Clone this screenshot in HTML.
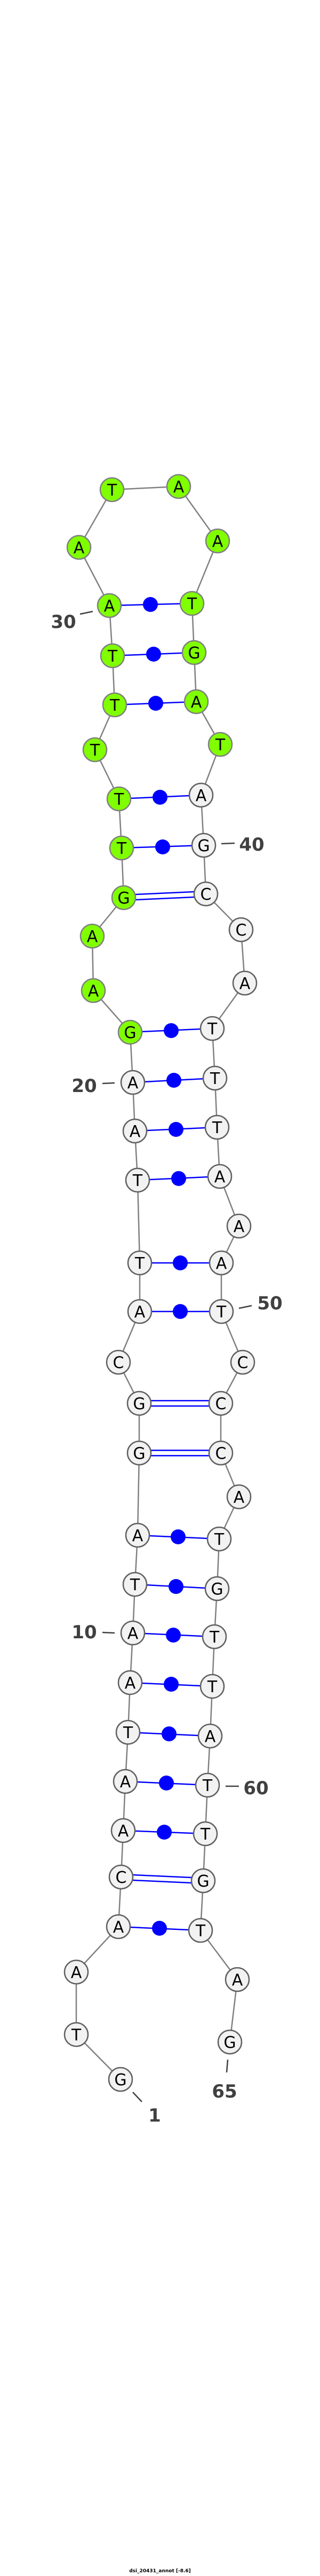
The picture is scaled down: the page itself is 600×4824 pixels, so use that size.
<!DOCTYPE html>
<html><head><meta charset="utf-8"><style>
html,body{margin:0;padding:0;background:#fff;}
svg{display:block;}
.bb{fill:none;stroke:#808080;stroke-width:2.5;}
.p{stroke:#0000ff;stroke-width:2.5;}
.d{fill:#0000ff;}
.w{fill:#f2f2f2;stroke:#606060;stroke-width:2.5;}
.g{fill:#80ff00;stroke:#808080;stroke-width:2.5;}
.t{font-family:"DejaVu Sans","Liberation Sans",sans-serif;font-size:30px;fill:#000;text-anchor:middle;}
.l{font-family:"DejaVu Sans","Liberation Sans",sans-serif;font-size:34px;font-weight:bold;fill:#404040;text-anchor:middle;}
.k{stroke:#404040;stroke-width:2.5;}
</style></head><body>
<svg width="600" height="4824" viewBox="0 0 600 4824" xmlns="http://www.w3.org/2000/svg">
<polyline class="bb" points="226,3894 143,3810 143,3693 222,3608 227,3515 231,3428 235,3336 240,3244 244,3151 249,3058 253,2967 258,2875 261,2721 261,2628 222,2551 262,2456 262,2365 258,2210 253,2118 249,2027 244,1933 175,1855 173,1753 232,1681 228,1588 223,1496 178,1404 215,1320 211,1228 205,1134 148,1025 210,917 335,911 408,1013 360,1130 364,1222 368,1314 413,1394 377,1489 382,1583 386,1674 452,1741 459,1841 398,1926 403,2019 407,2111 412,2203 448,2296 415,2365 415,2456 455,2551 414,2628 414,2721 448,2803 411,2882 407,2975 402,3065 398,3158 394,3251 389,3343 385,3434 381,3522 376,3615 445,3707 431,3824"/>
<!-- pairs -->
<g>
<line class="p" x1="222" y1="3608" x2="376" y2="3615"/><circle class="d" cx="299" cy="3611" r="14"/>
<line class="p" x1="227" y1="3510" x2="381" y2="3517"/><line class="p" x1="227" y1="3520" x2="381" y2="3527"/>
<line class="p" x1="231" y1="3428" x2="385" y2="3434"/><circle class="d" cx="308" cy="3431" r="14"/>
<line class="p" x1="235" y1="3336" x2="389" y2="3343"/><circle class="d" cx="312" cy="3339" r="14"/>
<line class="p" x1="240" y1="3244" x2="394" y2="3251"/><circle class="d" cx="317" cy="3247" r="14"/>
<line class="p" x1="244" y1="3151" x2="398" y2="3158"/><circle class="d" cx="321" cy="3154" r="14"/>
<line class="p" x1="249" y1="3058" x2="402" y2="3065"/><circle class="d" cx="325" cy="3062" r="14"/>
<line class="p" x1="253" y1="2967" x2="407" y2="2975"/><circle class="d" cx="330" cy="2971" r="14"/>
<line class="p" x1="258" y1="2875" x2="411" y2="2882"/><circle class="d" cx="334" cy="2878" r="14"/>
<line class="p" x1="261" y1="2716" x2="414" y2="2716"/><line class="p" x1="261" y1="2726" x2="414" y2="2726"/>
<line class="p" x1="261" y1="2623" x2="414" y2="2623"/><line class="p" x1="261" y1="2633" x2="414" y2="2633"/>
<line class="p" x1="262" y1="2456" x2="415" y2="2456"/><circle class="d" cx="338" cy="2456" r="14"/>
<line class="p" x1="262" y1="2365" x2="415" y2="2365"/><circle class="d" cx="338" cy="2365" r="14"/>
<line class="p" x1="258" y1="2210" x2="412" y2="2203"/><circle class="d" cx="335" cy="2207" r="14"/>
<line class="p" x1="253" y1="2118" x2="407" y2="2111"/><circle class="d" cx="330" cy="2115" r="14"/>
<line class="p" x1="249" y1="2027" x2="403" y2="2019"/><circle class="d" cx="326" cy="2023" r="14"/>
<line class="p" x1="244" y1="1933" x2="398" y2="1926"/><circle class="d" cx="321" cy="1930" r="14"/>
<line class="p" x1="232" y1="1686" x2="386" y2="1679"/><line class="p" x1="232" y1="1676" x2="386" y2="1669"/>
<line class="p" x1="228" y1="1588" x2="382" y2="1583"/><circle class="d" cx="305" cy="1586" r="14"/>
<line class="p" x1="223" y1="1496" x2="377" y2="1489"/><circle class="d" cx="300" cy="1493" r="14"/>
<line class="p" x1="215" y1="1320" x2="368" y2="1314"/><circle class="d" cx="292" cy="1317" r="14"/>
<line class="p" x1="211" y1="1228" x2="364" y2="1222"/><circle class="d" cx="288" cy="1225" r="14"/>
<line class="p" x1="205" y1="1134" x2="360" y2="1130"/><circle class="d" cx="282" cy="1132" r="14"/>
</g>
<!-- nodes -->
<g>
<circle class="w" cx="226" cy="3894" r="22"/><text class="t" x="226" y="3905">G</text>
<circle class="w" cx="143" cy="3810" r="22"/><text class="t" x="143" y="3821">T</text>
<circle class="w" cx="143" cy="3693" r="22"/><text class="t" x="143" y="3704">A</text>
<circle class="w" cx="222" cy="3608" r="22"/><text class="t" x="222" y="3619">A</text>
<circle class="w" cx="227" cy="3515" r="22"/><text class="t" x="227" y="3526">C</text>
<circle class="w" cx="231" cy="3428" r="22"/><text class="t" x="231" y="3439">A</text>
<circle class="w" cx="235" cy="3336" r="22"/><text class="t" x="235" y="3347">A</text>
<circle class="w" cx="240" cy="3244" r="22"/><text class="t" x="240" y="3255">T</text>
<circle class="w" cx="244" cy="3151" r="22"/><text class="t" x="244" y="3162">A</text>
<circle class="w" cx="249" cy="3058" r="22"/><text class="t" x="249" y="3069">A</text>
<circle class="w" cx="253" cy="2967" r="22"/><text class="t" x="253" y="2978">T</text>
<circle class="w" cx="258" cy="2875" r="22"/><text class="t" x="258" y="2886">A</text>
<circle class="w" cx="261" cy="2721" r="22"/><text class="t" x="261" y="2732">G</text>
<circle class="w" cx="261" cy="2628" r="22"/><text class="t" x="261" y="2639">G</text>
<circle class="w" cx="222" cy="2551" r="22"/><text class="t" x="222" y="2562">C</text>
<circle class="w" cx="262" cy="2456" r="22"/><text class="t" x="262" y="2467">A</text>
<circle class="w" cx="262" cy="2365" r="22"/><text class="t" x="262" y="2376">T</text>
<circle class="w" cx="258" cy="2210" r="22"/><text class="t" x="258" y="2221">T</text>
<circle class="w" cx="253" cy="2118" r="22"/><text class="t" x="253" y="2129">A</text>
<circle class="w" cx="249" cy="2027" r="22"/><text class="t" x="249" y="2038">A</text>
<circle class="g" cx="244" cy="1933" r="22"/><text class="t" x="244" y="1944">G</text>
<circle class="g" cx="175" cy="1855" r="22"/><text class="t" x="175" y="1866">A</text>
<circle class="g" cx="173" cy="1753" r="22"/><text class="t" x="173" y="1764">A</text>
<circle class="g" cx="232" cy="1681" r="22"/><text class="t" x="232" y="1692">G</text>
<circle class="g" cx="228" cy="1588" r="22"/><text class="t" x="228" y="1599">T</text>
<circle class="g" cx="223" cy="1496" r="22"/><text class="t" x="223" y="1507">T</text>
<circle class="g" cx="178" cy="1404" r="22"/><text class="t" x="178" y="1415">T</text>
<circle class="g" cx="215" cy="1320" r="22"/><text class="t" x="215" y="1331">T</text>
<circle class="g" cx="211" cy="1228" r="22"/><text class="t" x="211" y="1239">T</text>
<circle class="g" cx="205" cy="1134" r="22"/><text class="t" x="205" y="1145">A</text>
<circle class="g" cx="148" cy="1025" r="22"/><text class="t" x="148" y="1036">A</text>
<circle class="g" cx="210" cy="917" r="22"/><text class="t" x="210" y="928">T</text>
<circle class="g" cx="335" cy="911" r="22"/><text class="t" x="335" y="922">A</text>
<circle class="g" cx="408" cy="1013" r="22"/><text class="t" x="408" y="1024">A</text>
<circle class="g" cx="360" cy="1130" r="22"/><text class="t" x="360" y="1141">T</text>
<circle class="g" cx="364" cy="1222" r="22"/><text class="t" x="364" y="1233">G</text>
<circle class="g" cx="368" cy="1314" r="22"/><text class="t" x="368" y="1325">A</text>
<circle class="g" cx="413" cy="1394" r="22"/><text class="t" x="413" y="1405">T</text>
<circle class="w" cx="377" cy="1489" r="22"/><text class="t" x="377" y="1500">A</text>
<circle class="w" cx="382" cy="1583" r="22"/><text class="t" x="382" y="1594">G</text>
<circle class="w" cx="386" cy="1674" r="22"/><text class="t" x="386" y="1685">C</text>
<circle class="w" cx="452" cy="1741" r="22"/><text class="t" x="452" y="1752">C</text>
<circle class="w" cx="459" cy="1841" r="22"/><text class="t" x="459" y="1852">A</text>
<circle class="w" cx="398" cy="1926" r="22"/><text class="t" x="398" y="1937">T</text>
<circle class="w" cx="403" cy="2019" r="22"/><text class="t" x="403" y="2030">T</text>
<circle class="w" cx="407" cy="2111" r="22"/><text class="t" x="407" y="2122">T</text>
<circle class="w" cx="412" cy="2203" r="22"/><text class="t" x="412" y="2214">A</text>
<circle class="w" cx="448" cy="2296" r="22"/><text class="t" x="448" y="2307">A</text>
<circle class="w" cx="415" cy="2365" r="22"/><text class="t" x="415" y="2376">A</text>
<circle class="w" cx="415" cy="2456" r="22"/><text class="t" x="415" y="2467">T</text>
<circle class="w" cx="455" cy="2551" r="22"/><text class="t" x="455" y="2562">C</text>
<circle class="w" cx="414" cy="2628" r="22"/><text class="t" x="414" y="2639">C</text>
<circle class="w" cx="414" cy="2721" r="22"/><text class="t" x="414" y="2732">C</text>
<circle class="w" cx="448" cy="2803" r="22"/><text class="t" x="448" y="2814">A</text>
<circle class="w" cx="411" cy="2882" r="22"/><text class="t" x="411" y="2893">T</text>
<circle class="w" cx="407" cy="2975" r="22"/><text class="t" x="407" y="2986">G</text>
<circle class="w" cx="402" cy="3065" r="22"/><text class="t" x="402" y="3076">T</text>
<circle class="w" cx="398" cy="3158" r="22"/><text class="t" x="398" y="3169">T</text>
<circle class="w" cx="394" cy="3251" r="22"/><text class="t" x="394" y="3262">A</text>
<circle class="w" cx="389" cy="3343" r="22"/><text class="t" x="389" y="3354">T</text>
<circle class="w" cx="385" cy="3434" r="22"/><text class="t" x="385" y="3445">T</text>
<circle class="w" cx="381" cy="3522" r="22"/><text class="t" x="381" y="3533">G</text>
<circle class="w" cx="376" cy="3615" r="22"/><text class="t" x="376" y="3626">T</text>
<circle class="w" cx="445" cy="3707" r="22"/><text class="t" x="445" y="3718">A</text>
<circle class="w" cx="431" cy="3824" r="22"/><text class="t" x="431" y="3835">G</text>
</g>
<!-- labels -->
<line class="k" x1="150" y1="1150" x2="174" y2="1145"/><text class="l" x="119" y="1176">30</text>
<line class="k" x1="415" y1="1580" x2="440" y2="1579"/><text class="l" x="472" y="1593">40</text>
<line class="k" x1="192" y1="2029" x2="215" y2="2028"/><text class="l" x="158" y="2045">20</text>
<line class="k" x1="448" y1="2450" x2="472" y2="2445"/><text class="l" x="506" y="2452">50</text>
<line class="k" x1="192" y1="3057" x2="215" y2="3058"/><text class="l" x="158" y="3068">10</text>
<line class="k" x1="423" y1="3345" x2="448" y2="3345"/><text class="l" x="480" y="3360">60</text>
<line class="k" x1="249" y1="3918" x2="266" y2="3936"/><text class="l" x="290" y="3973">1</text>
<line class="k" x1="427" y1="3857" x2="425" y2="3881"/><text class="l" x="421" y="3928">65</text>
<text x="300" y="4817" text-anchor="middle" font-family="'DejaVu Sans','Liberation Sans',sans-serif" font-size="9" font-weight="bold" fill="#000">dsi_20431_annot [-8.6]</text>
</svg>
</body></html>
